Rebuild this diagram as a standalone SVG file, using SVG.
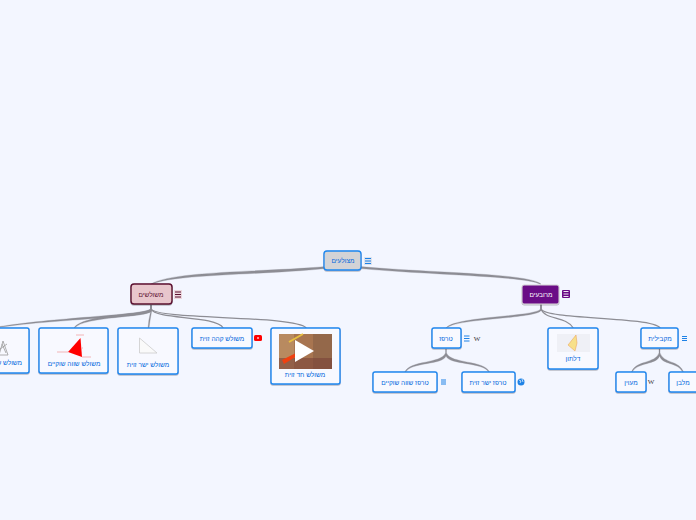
<svg xmlns="http://www.w3.org/2000/svg" width="696" height="520" viewBox="0 0 696 520">
<style>
text{font-family:"Liberation Sans","DejaVu Sans",sans-serif;font-size:6.5px;text-anchor:middle;fill:#0066dd}
.n{fill:#f8f9ff;stroke:#1e88f0;stroke-width:1.4;filter:url(#s)}
.c{fill:#8d8d94;stroke:#8d8d94;stroke-width:.3}
.l{fill:none;stroke:#8d8d94;stroke-width:1.2}
.ic{stroke:#1e82e6;stroke-width:1}
.w{font-family:"Liberation Serif",serif;font-size:7px;fill:#333}
</style>
<defs><filter id="s" x="-10%" y="-10%" width="120%" height="125%"><feDropShadow dx="0" dy="0.7" stdDeviation="0.5" flood-color="#445" flood-opacity=".5"/></filter></defs>
<rect width="696" height="520" fill="#f3f6ff"/>
<g id="connectors">
<path class="c" d="M326 266.500C262 272 172 271 151 284L152 284.300C173 274 264 275 326 268.500Z"/>
<path class="c" d="M360 266.500C430 273 528 273 541 284L540.300 284.300C526 276 430 275 360 268.500Z"/>
<path class="c" d="M150.500 305V309C145 315 60 317 0 326.500V327.300C60 318.500 147 318 151.500 311V305Z"/>
<path class="c" d="M150.500 305V309C146 315 82 314 74 328L74.800 328C84 316 147 318 151.500 311V305Z"/>
<path class="c" d="M150.500 305V312Q148.500 320 148 328H149Q150 320 151.500 312V305Z"/>
<path class="l" d="M151 305V309C156 320 215 315 223.300 328"/>
<path class="l" d="M151 305V309C158 320 295 315 306.300 328"/>
<path class="c" d="M540.500 304V309C536 317 455 316 445.800 328L446.800 328C456 318 538 319 541.500 310V304Z"/>
<path class="l" d="M541 304V309C545 320 566 316 573.300 328"/>
<path class="l" d="M541 304V309C546 320 650 316 660.300 328"/>
<path class="c" d="M445.500 349V353C441 364 410 360 404.800 372L405.800 372C411 362 443 365 446 356C449 365 483 362 488.600 372L489.600 372C484 360 451 364 446.500 353V349Z"/>
<path class="c" d="M659 349V353C655 364 636 360 631.400 372L632.300 372C637 362 657 365 659.600 356C662 365 678 362 682.600 372L683.600 372C679 360 664 364 660 353V349Z"/>
</g>
<g id="n-root"><rect x="324" y="251" width="37" height="19" rx="3" fill="#d3d3d6" stroke="#1e88f0" stroke-width="1.3" filter="url(#s)"/><text x="343" y="263">מצולעים</text>
<rect x="364" y="257" width="8" height="8" fill="#dde3ee"/><path class="ic" d="M365 258.500h6M365 261h6M365 263.500h6"/></g>
<g id="n-triangles"><rect x="131" y="284" width="41" height="20" rx="3" fill="#e8c6cc" stroke="#5c1030" stroke-width="1.4" filter="url(#s)"/><text x="151" y="297" style="fill:#5c1030">משולשים</text>
<rect x="174" y="290" width="8" height="9" fill="#ecd8de"/><path d="M175 292h6M175 294.500h6M175 297h6" stroke="#5c1030" stroke-width="1"/></g>
<g id="n-quads"><rect x="522" y="285" width="37" height="19" rx="2" fill="#6a0a86" stroke="#ddd" stroke-width="1" filter="url(#s)"/><text x="541" y="297" style="fill:#fff">מרובעים</text>
<rect x="562" y="290" width="8" height="8" rx="1" fill="#6a0a86"/><path d="M563.500 291.500h5M563.500 294h5M563.500 296.500h5" stroke="#fff" stroke-width=".9"/></g>
<g id="n-scalene"><rect class="n" x="-30" y="328" width="59" height="45" rx="2"/><text x="22" y="365" style="text-anchor:end">משולש שונה צלעות</text>
<path d="M3 341L-1 355H8ZM0 349L7 344M2 344L6 353" fill="none" stroke="#999" stroke-width=".8"/></g>
<g id="n-isosceles"><rect class="n" x="39" y="328" width="69" height="45" rx="2"/>
<path d="M80.500 338L68 352L82 357Z" fill="#f00"/><path d="M57 352H68M82 357H91M76 335H84M82 348H83" stroke="#f09a9a" stroke-width=".7"/><text x="74" y="366">משולש שווה שוקיים</text></g>
<g id="n-right"><rect class="n" x="118" y="328" width="60" height="46" rx="2"/><path d="M139.500 338V353H157Z" fill="#fafafa" stroke="#ccc" stroke-width=".8"/><text x="148" y="367">משולש ישר זוית</text></g>
<g id="n-obtuse"><rect class="n" x="192" y="328" width="60" height="20" rx="2"/><text x="222" y="341">משולש קהה זוית</text>
<rect x="254" y="335" width="8" height="6" rx="1.500" fill="#f00"/><circle cx="258" cy="338" r="1" fill="#fbb"/></g>
<g id="n-acute"><rect class="n" x="271" y="328" width="69" height="56" rx="2"/><rect x="279" y="334" width="53" height="35" fill="#a87550"/><rect x="279" y="334" width="15" height="35" fill="#b88a60"/><rect x="313" y="334" width="19" height="35" fill="#94684a"/><rect x="279" y="358" width="53" height="11" fill="#7a4238" opacity=".6"/><path d="M282 360L296 353L297 356L284 364Z" fill="#f04010"/><path d="M289 342L303 334" stroke="#e8c040" stroke-width="2"/><path d="M295 340L314 351L295 362Z" fill="#fff"/><text x="305" y="377">משולש חד זוית</text></g>
<g id="n-trapezoid"><rect class="n" x="432" y="328" width="29" height="20" rx="2"/><text x="446" y="341">טרפז</text>
<path class="ic" d="M464 336h5.500M464 338.500h5.500M464 341h5.500"/><text class="w" x="477" y="341">W</text></g>
<g id="n-kite"><rect class="n" x="548" y="328" width="50" height="41" rx="2"/><rect x="557" y="334" width="33" height="18" fill="#eff0f6"/><path d="M576 335L568 345L575 351L577 343Z" fill="#f7e08a" stroke="#ea9a50" stroke-width=".5"/><text x="573" y="361">דלתון</text></g>
<g id="n-parallelogram"><rect class="n" x="641" y="328" width="37" height="20" rx="2"/><text x="660" y="341">מקבילית</text><path class="ic" d="M682 336.500h5M682 338.500h5M682 340.500h5"/></g>
<g id="n-iso-trap"><rect class="n" x="373" y="372" width="64" height="20" rx="2"/><text x="405" y="385">טרפז שווה שוקיים</text><path class="ic" d="M441 380h5M441 382h5M441 384h5"/></g>
<g id="n-right-trap"><rect class="n" x="462" y="372" width="53" height="20" rx="2"/><text x="488" y="385">טרפז ישר זוית</text>
<circle cx="521" cy="382" r="3.500" fill="#1e82e6"/><path d="M519 380l2 1l-1 2M522 379l1 3" stroke="#fff" stroke-width=".7" fill="none"/></g>
<g id="n-rhombus"><rect class="n" x="616" y="372" width="30" height="20" rx="2"/><text x="631" y="385">מעוין</text><text class="w" x="651" y="384">W</text></g>
<g id="n-rectangle"><rect class="n" x="669" y="372" width="40" height="20" rx="2"/><text x="683" y="385">מלבן</text></g>
</svg>
